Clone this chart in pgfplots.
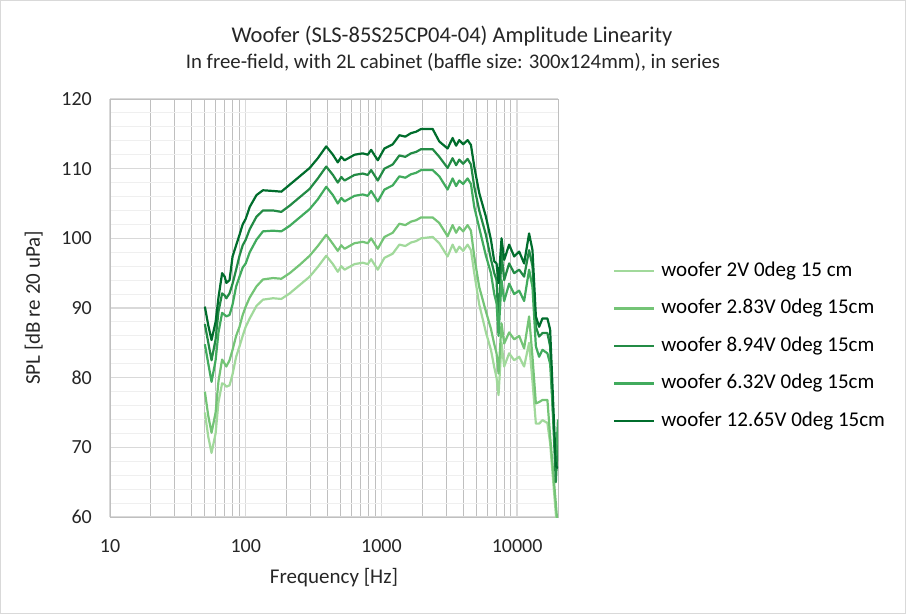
\documentclass[border=0pt]{standalone}
\usepackage{pgfplots}
\pgfplotsset{compat=1.18}
\usepackage{pgfplotstable}
\usepackage{fontspec}
\setmainfont{Carlito}
\definecolor{cA}{HTML}{A1D99B}
\definecolor{cB}{HTML}{74C476}
\definecolor{cC}{HTML}{238B45}
\definecolor{cD}{HTML}{41AB5D}
\definecolor{cE}{HTML}{006D2C}
\definecolor{gmaj}{HTML}{D9D9D9}
\definecolor{gminx}{HTML}{BFBFBF}
\definecolor{gminy}{HTML}{EFEFEF}
\pgfplotstableread{
f a b c d e
50 75.0 78.0 87.7 84.8 90.2
53 71.5 74.5 85.0 82.0 87.5
56 69.2 72.1 82.5 79.4 85.4
60 72.0 75.0 85.5 82.5 88.0
63 76.5 79.5 89.5 86.5 91.5
67 79.2 82.6 92.1 89.3 95.0
70 79.0 82.0 91.8 89.0 94.5
72 78.7 81.6 91.4 88.8 93.6
76 78.9 82.5 92.1 89.0 94.0
80 80.5 84.0 93.5 90.5 97.4
85 83.0 86.0 95.5 93.1 99.0
90 84.5 87.3 97.5 94.5 100.5
95 86.0 89.0 99.0 95.8 102.0
100 87.3 90.2 99.8 96.4 102.8
107 88.5 91.5 101.3 98.0 104.5
120 90.3 93.1 103.1 99.8 106.2
134 91.2 94.1 104.0 101.0 106.9
159 91.4 94.3 104.0 101.1 106.8
183 91.3 94.2 103.8 101.0 106.7
211 92.1 95.0 104.7 101.8 107.7
250 93.3 96.2 105.9 103.0 108.9
296 94.5 97.5 107.1 104.2 110.1
340 95.9 98.9 108.6 105.6 111.5
392 97.5 100.5 110.3 107.4 113.2
439 96.3 99.2 109.1 106.2 112.0
477 95.2 98.2 108.0 105.0 110.9
506 96.0 99.0 108.8 105.8 111.7
535 95.5 98.5 108.3 105.3 111.2
633 96.3 99.3 109.1 106.1 112.0
729 96.5 99.5 109.3 106.3 112.2
793 96.3 99.3 109.1 106.1 112.0
840 97.0 100.0 109.8 106.8 112.7
940 95.5 98.5 108.3 105.3 111.2
1052 97.2 100.2 110.0 107.0 112.9
1211 97.8 100.8 110.6 107.6 113.5
1356 99.1 102.1 111.9 108.9 114.8
1500 98.9 101.9 111.7 108.7 114.6
1652 99.4 102.4 112.2 109.2 115.1
1799 99.6 102.6 112.4 109.4 115.3
1959 100.0 103.0 112.8 109.8 115.7
2384 100.2 103.0 112.8 109.8 115.7
2669 99.3 102.2 111.7 108.9 113.9
3073 97.4 100.3 110.1 107.0 112.9
3346 99.1 101.9 111.5 108.6 114.4
3550 98.0 100.8 110.5 107.5 113.3
3747 98.8 101.6 111.3 108.3 114.1
4000 98.2 101.0 110.7 107.8 113.5
4314 99.1 101.9 111.4 108.6 114.1
4566 98.3 101.1 110.6 107.8 113.4
4831 95.0 97.4 107.4 104.5 110.3
5256 90.5 93.0 104.0 101.5 106.5
5888 86.5 89.5 100.5 97.5 103.1
6411 84.0 87.0 97.0 95.0 99.8
6781 81.5 84.8 95.0 92.0 96.7
7050 80.0 83.5 94.0 90.7 96.4
7293 77.5 80.6 87.8 86.0 93.6
7674 85.0 87.8 97.9 94.0 100.0
8024 81.6 84.9 94.0 91.0 96.9
8731 83.5 86.5 96.4 93.5 99.1
9506 82.5 85.5 95.0 92.0 97.4
10350 83.0 86.0 95.5 92.5 98.1
11255 81.6 84.2 94.5 91.0 96.4
12248 85.0 88.8 98.3 95.5 100.7
12970 79.5 83.0 96.0 93.0 98.3
13740 73.4 76.3 87.3 84.5 88.8
14520 73.4 76.5 85.9 83.0 87.3
15360 73.9 76.8 86.4 84.0 88.5
16710 73.5 76.8 86.4 83.5 88.5
17500 70.6 71.6 84.5 82.0 86.9
19270 60.5 62.0 65.0 68.0 67.3
20000 55.0 58.0 71.0 74.0 67.0
}\datatable
\begin{document}
\begin{tikzpicture}
\useasboundingbox (-110pt,-97pt) rectangle (796pt,517pt);
\draw[color=gmaj, line width=1pt] (-109.5pt,-96.5pt) rectangle (795.5pt,516.5pt);
\begin{axis}[
  at={(0pt,0pt)}, anchor=south west,
  scale only axis, width=448pt, height=418pt,
  xmode=log, log basis x=10,
  xmin=10, xmax=20000, ymin=60, ymax=120,
  xtick={10,100,1000,10000}, xticklabels={10,100,1000,10000},
  minor xtick={20,30,40,50,60,70,80,90,200,300,400,500,600,700,800,900,2000,3000,4000,5000,6000,7000,8000,9000},
  ytick={60,70,80,90,100,110,120}, yticklabels={60,70,80,90,100,110,120},
  minor ytick={62,64,66,68,72,74,76,78,82,84,86,88,92,94,96,98,102,104,106,108,112,114,116,118},
  major tick length=0pt, minor tick length=0pt,
  grid=both,
  major grid style={color=gmaj, line width=1.5pt},
  minor x grid style={color=gminx, line width=0.9pt},
  minor y grid style={color=gminy, line width=0.9pt},
  axis line style={color=gminx, line width=1pt},
  tick label style={font=\fontsize{20}{24}\selectfont, color=black!85},
  yticklabel style={anchor=east, inner sep=0pt, xshift=-18pt},
  xticklabel style={anchor=north, inner sep=0pt, yshift=-22pt},
  legend cell align=left,
  legend style={draw=none, fill=none, at={(1.116,0.409)}, anchor=west,
    font=\fontsize{21}{25}\selectfont,
    nodes={inner sep=0pt, text height=14pt, text depth=4pt},
    row sep=19.5pt,
    /tikz/every odd column/.append style={column sep=6pt}},
  legend image code/.code={\draw[#1, line width=2.2pt] (0pt,0pt) -- (40pt,0pt);},
  every axis plot/.append style={line width=2.2pt, line join=round},
]
\addplot[color=cA] table[x=f,y=a]{\datatable};
\addlegendentry{woofer 2V 0deg 15 cm}
\addplot[color=cB] table[x=f,y=b]{\datatable};
\addlegendentry{woofer 2.83V 0deg 15cm}
\addplot[color=cC] table[x=f,y=c]{\datatable};
\addlegendentry{woofer 8.94V 0deg 15cm}
\addplot[color=cD] table[x=f,y=d]{\datatable};
\addlegendentry{woofer 6.32V 0deg 15cm}
\addplot[color=cE] table[x=f,y=e]{\datatable};
\addlegendentry{woofer 12.65V 0deg 15cm}
\end{axis}
\node[anchor=base, font=\fontsize{22.5}{27}\selectfont, color=black!85] at (342pt,474pt) {Woofer (SLS-85S25CP04-04) Amplitude Linearity};
\node[anchor=base, font=\fontsize{20.8}{25}\selectfont, color=black!85] at (343pt,448.7pt) {In free-field, with 2L cabinet (baffle size: 300x124mm), in series};
\node[anchor=base, font=\fontsize{21}{25}\selectfont, color=black!85] at (224pt,-66pt) {Frequency [Hz]};
\node[anchor=base, rotate=90, font=\fontsize{21}{25}\selectfont, color=black!85] at (-70pt,209pt) {SPL [dB re 20 uPa]};
\end{tikzpicture}
\end{document}
